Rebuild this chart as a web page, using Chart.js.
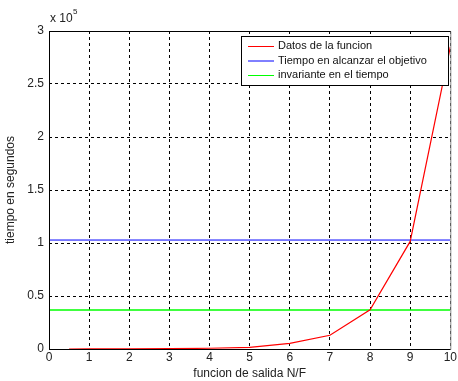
<!DOCTYPE html>
<html>
<head>
<meta charset="utf-8">
<script src="https://cdn.jsdelivr.net/npm/chart.js@4/dist/chart.umd.min.js"></script>
<style>
  html, body { margin: 0; padding: 0; background: #fff; }
  #wrap { width: 458px; height: 381px; }
</style>
</head>
<body>
<div id="wrap"><canvas id="grafico"></canvas></div>
<script>
// datos
const xValues = [0.5, 1, 2, 3, 4, 5, 6, 7, 8, 9, 10];
const datosFuncion = [20, 35, 96, 260, 710, 1500, 5300, 13000, 37000, 101500, 285000];
const xRange = [0, 10];
const tiempoObjetivo = 102800;
const invariante = 36800;
const seriesLabels = ['Datos de la funcion', 'Tiempo en alcanzar el objetivo', 'invariante en el tiempo'];
const seriesColors = ['#ff0000', '#0000ff', '#00ff00'];
const yTicks = [0, 0.5, 1, 1.5, 2, 2.5, 3];

const FONT = 'Liberation Sans, Arial, sans-serif';

// caja de ejes, leyenda y exponente al estilo matlab
const matlabPlugin = {
  id: 'matlab',
  afterDraw(chart) {
    const { ctx, chartArea: a } = chart;
    ctx.save();
    ctx.setLineDash([]);
    ctx.lineWidth = 1;
    ctx.strokeStyle = '#000';
    ctx.beginPath();
    ctx.moveTo(a.left + 0.5, a.bottom + 0.5);
    ctx.lineTo(a.left + 0.5, a.top + 0.5);
    ctx.lineTo(a.right + 0.5, a.top + 0.5);
    ctx.moveTo(a.left + 0.5, a.bottom + 0.5);
    ctx.lineTo(a.right + 0.5, a.bottom + 0.5);
    ctx.stroke();
    ctx.strokeStyle = '#888';
    ctx.beginPath();
    ctx.moveTo(a.right + 0.5, a.top + 0.5);
    ctx.lineTo(a.right + 0.5, a.bottom + 0.5);
    ctx.stroke();

    // x 10^5
    ctx.fillStyle = '#222';
    ctx.font = '12px ' + FONT;
    ctx.textBaseline = 'alphabetic';
    ctx.textAlign = 'left';
    ctx.fillText('x 10', a.left + 1, a.top - 9);
    ctx.font = '8px ' + FONT;
    ctx.fillText('5', a.left + 24, a.top - 17);

    // leyenda
    const lx = a.left + 192, ly = a.top + 5, lw = 207, lh = 49;
    ctx.fillStyle = '#fff';
    ctx.fillRect(lx, ly, lw, lh);
    ctx.strokeStyle = '#000';
    ctx.strokeRect(lx + 0.5, ly + 0.5, lw, lh);
    ctx.font = '11px ' + FONT;
    ctx.textBaseline = 'middle';
    seriesLabels.forEach((lbl, i) => {
      const y = ly + 10 + i * 14.5;
      ctx.strokeStyle = seriesColors[i];
      ctx.beginPath();
      ctx.moveTo(lx + 7, y + 0.5);
      ctx.lineTo(lx + 33, y + 0.5);
      ctx.stroke();
      ctx.fillStyle = '#111';
      ctx.fillText(lbl, lx + 37, y);
    });
    ctx.restore();
  }
};

const chart = new Chart(document.getElementById('grafico'), {
  type: 'line',
  data: {
    datasets: [
      {
        label: seriesLabels[0],
        data: xValues.map((x, i) => ({ x: x, y: datosFuncion[i] })),
        borderColor: seriesColors[0],
        borderWidth: 1.2,
        pointRadius: 0,
        tension: 0
      },
      {
        label: seriesLabels[1],
        data: xRange.map(x => ({ x: x, y: tiempoObjetivo })),
        borderColor: seriesColors[1],
        borderWidth: 1,
        pointRadius: 0
      },
      {
        label: seriesLabels[2],
        data: xRange.map(x => ({ x: x, y: invariante })),
        borderColor: seriesColors[2],
        borderWidth: 1.3,
        pointRadius: 0
      }
    ]
  },
  options: {
    responsive: true,
    maintainAspectRatio: false,
    animation: false,
    layout: { padding: { top: 31, right: 4, left: 0, bottom: 0 } },
    plugins: { legend: { display: false }, tooltip: { enabled: false } },
    scales: {
      x: {
        type: 'linear',
        min: 0,
        max: 10,
        afterFit(s) { s.height = 32; },
        ticks: { stepSize: 1, color: '#222', padding: 1, font: { family: FONT, size: 12 }, maxRotation: 0 },
        grid: { color: '#000', lineWidth: 1, drawTicks: false },
        border: { display: false, dash: [3, 3] },
        title: { display: true, text: 'funcion de salida N/F', color: '#222', font: { family: FONT, size: 12 }, padding: { top: 2, bottom: 0 } }
      },
      y: {
        min: 0,
        max: 300000,
        afterFit(s) { s.width = 49; },
        afterBuildTicks(s) { s.ticks = yTicks.map(v => ({ value: v * 1e5 })); },
        ticks: { color: '#222', padding: 5, font: { family: FONT, size: 12 }, callback: v => String(v / 1e5) },
        grid: { color: '#000', lineWidth: 1, drawTicks: false },
        border: { display: false, dash: [3, 3] },
        title: { display: true, text: 'tiempo en segundos', color: '#222', font: { family: FONT, size: 12 }, padding: { top: 3, bottom: 0 } }
      }
    }
  },
  plugins: [matlabPlugin]
});
</script>
</body>
</html>
